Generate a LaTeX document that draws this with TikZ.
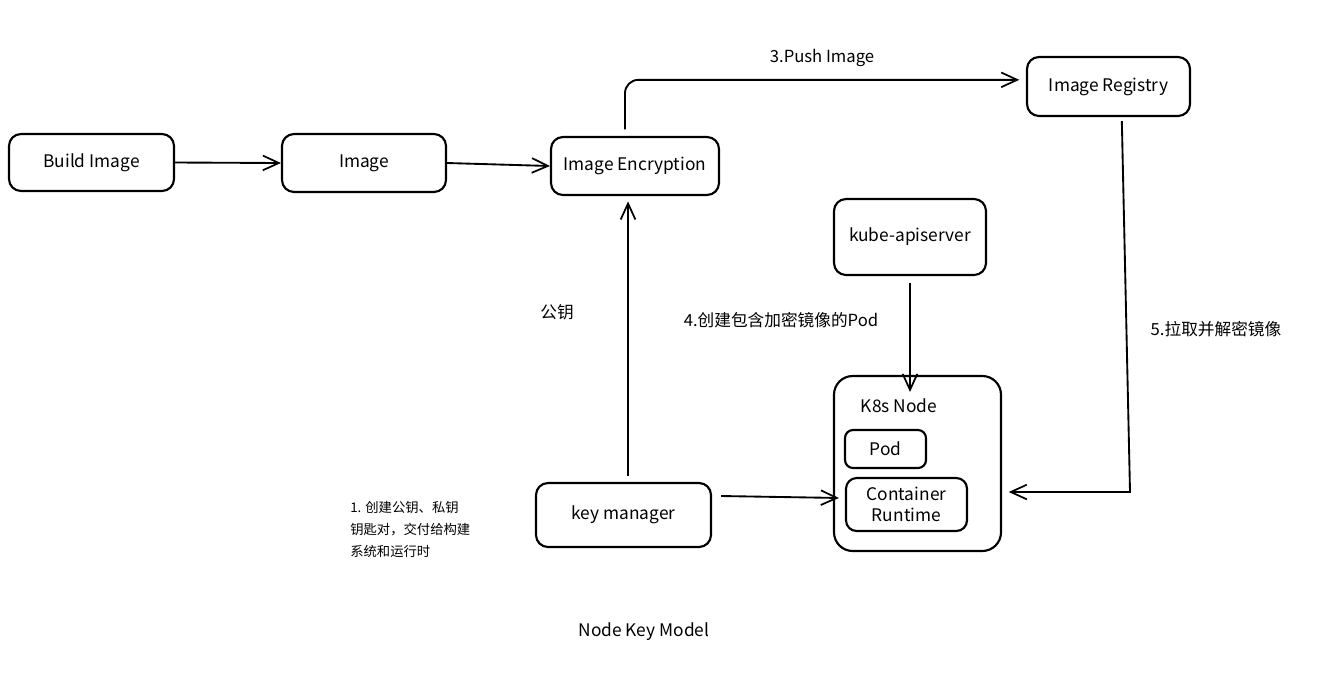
\documentclass[tikz,border=0pt]{standalone}
\usepackage{fontspec}
\setmainfont{Noto Sans CJK SC}
\usetikzlibrary{arrows.meta,calc}
\tikzset{
  box/.style={draw, line width=1.6pt, rounded corners=9pt, align=center, inner sep=0pt,
    font=\fontsize{13}{15}\selectfont},
  arr/.style={line width=1.4pt, -{Straight Barb[length=12pt,width=11pt,line width=1.3pt]}},
  lbl/.style={font=\fontsize{12.5}{15}\selectfont, inner sep=0pt},
}
\begin{document}
\begin{tikzpicture}[x=0.75pt,y=-0.75pt]
\useasboundingbox[fill=white] (0,0) rectangle (1330,694);
% boxes
\node[box, minimum width=123.75pt, minimum height=42.75pt] (bi) at (91.5,162.5) {Build Image};
\node[box, minimum width=123pt, minimum height=43.5pt] (img) at (364,163) {Image};
\node[box, minimum width=126pt, minimum height=43.5pt] (enc) at (635,166) {Image Encryption};
\node[box, minimum width=122.25pt, minimum height=44.25pt] (reg) at (1108.5,86.5) {Image Registry};
\node[box, minimum width=114pt, minimum height=57pt] (kube) at (910,237) {kube-apiserver};
\node[box, minimum width=125.25pt, minimum height=131.25pt, rounded corners=14pt] (k8s) at (917.5,463.5) {};
\node[lbl, font=\fontsize{13}{15}\selectfont] (k8sl) at (899,406) {K8s Node};
\node[box, minimum width=60.75pt, minimum height=28.5pt, rounded corners=6pt] (pod) at (885.5,449) {Pod};
\node[box, minimum width=90.75pt, minimum height=39.75pt, rounded corners=8pt,
  font=\fontsize{13}{16}\selectfont] (cr) at (906.5,504.5) {Container\\Runtime};
\node[box, minimum width=131.25pt, minimum height=48pt] (km) at (623.5,515) {key manager};
% labels
\node[lbl] (push) at (822,58) {3.Push Image};
\node[lbl] (pub) at (557,312) {公钥};
\node[lbl] (l4) at (781,320) {4.创建包含加密镜像的Pod};
\node[lbl] (l5) at (1216,329) {5.拉取并解密镜像};
\node[lbl, font=\fontsize{10}{16.5}\selectfont, align=left, anchor=west] (l1) at (350,529)
  {1. 创建公钥、私钥\\钥匙对，交付给构建\\系统和运行时};
\node[lbl, font=\fontsize{13}{15}\selectfont] (title) at (644,632) {Node Key Model};
% connectors
\draw[arr] (bi.east) -- (img.west);
\draw[arr] (img.east) -- (enc.west);
\draw[arr, rounded corners=10pt] ([xshift=-7.5pt,yshift=5pt]enc.north) |- ([xshift=-5pt,yshift=5pt]reg.west);
\draw[arr, shorten >=4pt] ([xshift=3.4pt,yshift=4.5pt]km.north) -- ([xshift=3.4pt]km.north |- enc.south);
\draw[arr] ([yshift=-5pt]kube.south) -- ([yshift=-12.75pt]kube.south |- k8s.north);
\draw[arr] ([xshift=6.75pt,yshift=14.25pt]km.east) -- ([xshift=-4.5pt,yshift=4.9pt]cr.west);
\coordinate (c5) at (1130,492);
\draw[arr, shorten >=5pt] ([xshift=10pt,yshift=-3pt]reg.south) -- (c5) -- (k8s.east |- c5);
\end{tikzpicture}
\end{document}
